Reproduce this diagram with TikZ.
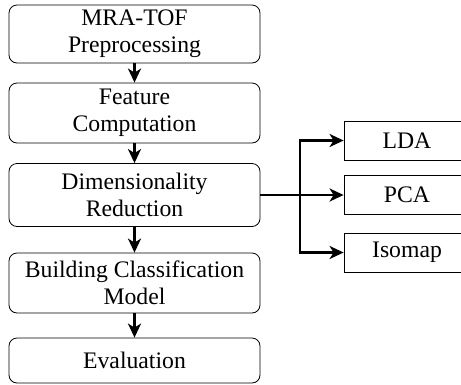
\documentclass[tikz,border=0pt]{standalone}
\usepackage{fontspec}
\setmainfont{Liberation Serif}
\newfontfamily\boxfont{Liberation Serif}
\usetikzlibrary{arrows.meta}

\tikzset{
  stage/.style={draw, line width=0.8pt, rounded corners=8pt, align=center,
    minimum width=251pt, inner sep=0pt, font=\boxfont\fontsize{23.7}{27}\selectfont},
  method/.style={draw, line width=0.8pt, minimum width=126pt, minimum height=39pt,
    inner sep=0pt, font=\boxfont\fontsize{23.7}{27}\selectfont},
  flow/.style={-{Stealth[length=14pt,width=13pt,inset=4pt]}, line width=2.4pt},
}

\begin{document}
\begin{tikzpicture}[x=1pt,y=-1pt]
		\useasboundingbox (0,0) rectangle (461,384);
		\clip (0,0) rectangle (461,384);
		
		% Pipeline stages
		\node[stage, minimum height=58pt] (prep) at (134.5,34) {MRA-TOF\\Preprocessing};
		\node[stage, minimum height=60pt] (feat) at (134.5,113) {Feature\\Computation};
		\node[stage, minimum height=63pt] (dim) at (134.5,195) {Dimensionality\\Reduction};
		\node[stage, minimum height=60pt] (build) at (134.5,283) {Building Classification\\Model};
		\node[stage, minimum height=45pt] (eval) at (134.5,360.5) {Evaluation};
		
		% Reduction methods
		\node[method] (lda) at (407,140.5) {LDA};
		\node[method] (pca) at (407,195) {PCA};
		\node[method] (iso) at (407,252.5) {Isomap};
		
		% Arrows
		\draw[flow] (prep) -- (feat);
		\draw[flow] (feat) -- (dim);
		\draw[flow] (dim) -- (build);
		\draw[flow] (build) -- (eval);
		\coordinate (split) at (300,195);
		\draw[flow] (dim.east) -- (pca.west);
		\draw[flow] (split) |- (lda.west);
		\draw[flow] (split) |- (iso.west);
\end{tikzpicture}
\end{document}
